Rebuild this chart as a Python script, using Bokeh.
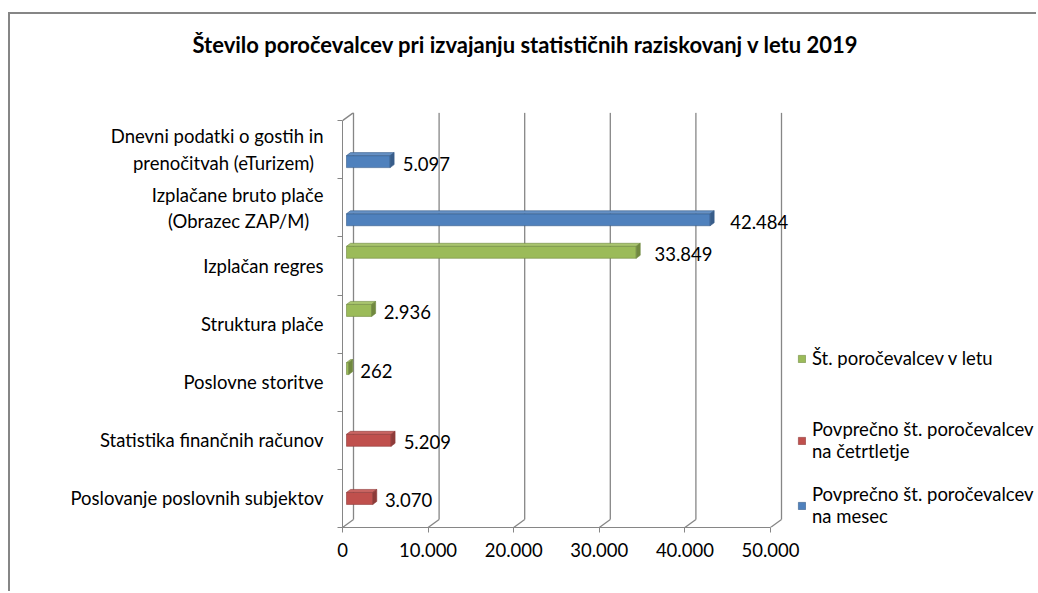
from bokeh.plotting import figure
from bokeh.models import Range1d, FixedTicker, Legend, LegendItem, Title
from bokeh.embed import file_html
from bokeh.resources import INLINE
from bokeh.core.properties import value

# ---------------- data ----------------
TITLE = "Število poročevalcev pri izvajanju statističnih raziskovanj  v letu 2019"
CATEGORIES = [
    "Poslovanje poslovnih subjektov",
    "Statistika finančnih računov",
    "Poslovne storitve",
    "Struktura plače",
    "Izplačan regres",
    "Izplačane bruto plače\n(Obrazec ZAP/M)\u00a0\u00a0\u00a0",
    "Dnevni podatki o gostih in\nprenočitvah (eTurizem)\u00a0\u00a0",
]
SERIES_NAMES = [
    "Št. poročevalcev v letu",
    "Povprečno št. poročevalcev\nna četrtletje",
    "Povprečno št. poročevalcev\nna mesec",
]
GREEN_VALUES = [None, None, 262, 2936, 33849, None, None]
RED_VALUES = [3070, 5209, None, None, None, None, None]
BLUE_VALUES = [None, None, None, None, None, 42484, 5097]
X_TICKS = [0, 10000, 20000, 30000, 40000, 50000]
X_TICK_LABELS = ["0", "10.000", "20.000", "30.000", "40.000", "50.000"]

# ---------------- layout / style ----------------
W, H = 1028, 579
FRAME_L, FRAME_T = 332, 98
FRAME_W, FRAME_H = W - FRAME_L, 415
UX = 10000 / 85.6         # data units per px (x)
X_END = FRAME_W * UX
Y_END = 7.14
UY = Y_END / FRAME_H      # data units per px (y)

DEPTH_DX, DEPTH_DY = 11 * UX, 8 * UY
BAR_X0 = 4 * UX
BAR_H = 12 * UY
FACE_DX, FACE_DY = 4 * UX, 3 * UY

FONT = "Lato"
GRID_COLOR = "#868686"
FS = "18.5px"

STYLES = [
    dict(front="#9bbb59", top="#a9c56f", side="#71893f", offset=0.235),
    dict(front="#c0504d", top="#c96562", side="#8e3b39", offset=0.0),
    dict(front="#4f81bd", top="#6590c4", side="#385d8a", offset=-0.205),
]

p = figure(width=W, height=H, output_backend="svg", toolbar_location=None,
           x_range=Range1d(0, X_END), y_range=Range1d(0, Y_END),
           min_border_left=FRAME_L, min_border_top=FRAME_T,
           min_border_right=0, min_border_bottom=H - FRAME_T - FRAME_H)
p.outline_line_color = None
p.grid.visible = False
p.background_fill_color = "white"
p.border_fill_color = "white"
p.styles = {"border-left": f"2px solid {GRID_COLOR}", "border-top": f"2px solid {GRID_COLOR}",
            "margin-left": "8px", "margin-top": "12px"}

# title (outer), then an empty spacer title next to the frame
p.title.text = TITLE
p.title.align = "left"
p.title.offset = -150
p.title.standoff = 0
p.title.text_font = FONT
p.title.text_font_style = "bold"
p.title.text_font_size = "22px"
p.title.text_color = "black"
p.add_layout(Title(text=" ", text_font_size="1px", standoff=52), "above")

# x axis
xa = p.xaxis[0]
xa.ticker = FixedTicker(ticks=X_TICKS, minor_ticks=[])
xa.major_label_overrides = {t: l for t, l in zip(X_TICKS, X_TICK_LABELS)}
xa.bounds = (X_TICKS[0], X_TICKS[-1])
xa.axis_line_color = GRID_COLOR
xa.major_tick_line_color = GRID_COLOR
xa.major_tick_in = 0
xa.major_tick_out = 5
xa.major_label_standoff = 10
xa.major_label_text_font = FONT
xa.major_label_text_font_size = FS
xa.major_label_text_color = "black"

# y axis: labels at slot centres, ticks at slot boundaries
ya = p.yaxis[0]
centers = [i + 0.5 for i in range(len(CATEGORIES))]
bounds_ticks = [float(i) for i in range(len(CATEGORIES) + 1)]
ya.ticker = FixedTicker(ticks=centers, minor_ticks=bounds_ticks)
ya.major_label_overrides = {c: lab for c, lab in zip(centers, CATEGORIES)}
ya.bounds = (0, len(CATEGORIES))
ya.axis_line_color = GRID_COLOR
ya.major_tick_line_color = None
ya.major_tick_in = 0
ya.major_tick_out = 0
ya.minor_tick_line_color = GRID_COLOR
ya.minor_tick_in = 0
ya.minor_tick_out = 5
ya.major_label_standoff = 14
ya.major_label_text_font = FONT
ya.major_label_text_font_size = FS
ya.major_label_text_color = "black"

# 3D walls: back-wall gridlines, floor diagonals, left-wall top edge
ncat = len(CATEGORIES)
p.segment(x0=[t + DEPTH_DX for t in X_TICKS], y0=[DEPTH_DY] * len(X_TICKS),
          x1=[t + DEPTH_DX for t in X_TICKS], y1=[ncat + DEPTH_DY] * len(X_TICKS),
          line_color=GRID_COLOR, line_width=1.3)
p.segment(x0=X_TICKS, y0=[0] * len(X_TICKS),
          x1=[t + DEPTH_DX for t in X_TICKS], y1=[DEPTH_DY] * len(X_TICKS),
          line_color=GRID_COLOR, line_width=1.3)
p.segment(x0=[0], y0=[ncat], x1=[DEPTH_DX], y1=[ncat + DEPTH_DY],
          line_color=GRID_COLOR, line_width=1.3)

# bars
legend_renderers = []
label_x, label_y, label_t = [], [], []
for vals, st in zip([GREEN_VALUES, RED_VALUES, BLUE_VALUES], STYLES):
    xs_r, ys_r, xs_t, ys_t = [], [], [], []
    left, right, bottom, top = [], [], [], []
    for i, v in enumerate(vals):
        if v is None:
            continue
        c = i + 0.5 + st["offset"]
        b, t = c - BAR_H / 2, c + BAR_H / 2
        x1 = BAR_X0 + v
        left.append(BAR_X0); right.append(x1); bottom.append(b); top.append(t)
        xs_t.append([BAR_X0, x1, x1 + FACE_DX, BAR_X0 + FACE_DX])
        ys_t.append([t, t, t + FACE_DY, t + FACE_DY])
        xs_r.append([x1, x1 + FACE_DX, x1 + FACE_DX, x1])
        ys_r.append([b, b + FACE_DY, t + FACE_DY, t])
        label_x.append(x1 + v * 0.0234)
        label_y.append(c)
        label_t.append(f"{v:,}".replace(",", "."))
    r = p.quad(left=left, right=right, bottom=bottom, top=top,
               fill_color=st["front"], line_color=st["side"], line_width=0.6)
    p.patches(xs=xs_t, ys=ys_t, fill_color=st["top"], line_color=st["side"], line_width=0.6)
    p.patches(xs=xs_r, ys=ys_r, fill_color=st["side"], line_color=st["side"], line_width=0.6)
    legend_renderers.append(r)

p.text(x=label_x, y=label_y, text=label_t, x_offset=11.5, y_offset=2,
       text_font=value(FONT), text_font_size=FS, text_color="black",
       text_baseline="middle", text_align="left")

# legend (two blocks, Excel spreads the entries unevenly)
legend_kw = dict(orientation="vertical", padding=0, margin=0, spacing=21,
                 glyph_width=9, glyph_height=9, label_standoff=6,
                 label_text_font=FONT, label_text_font_size=FS,
                 label_text_color="black",
                 border_line_color=None, background_fill_alpha=0)
items = [LegendItem(label=n, renderers=[r]) for n, r in zip(SERIES_NAMES, legend_renderers)]
p.add_layout(Legend(items=items[:1], location=(455, 158), **legend_kw))
p.add_layout(Legend(items=items[1:], location=(455, 0), **legend_kw))

open("out.html", "w").write(file_html(p, INLINE))
